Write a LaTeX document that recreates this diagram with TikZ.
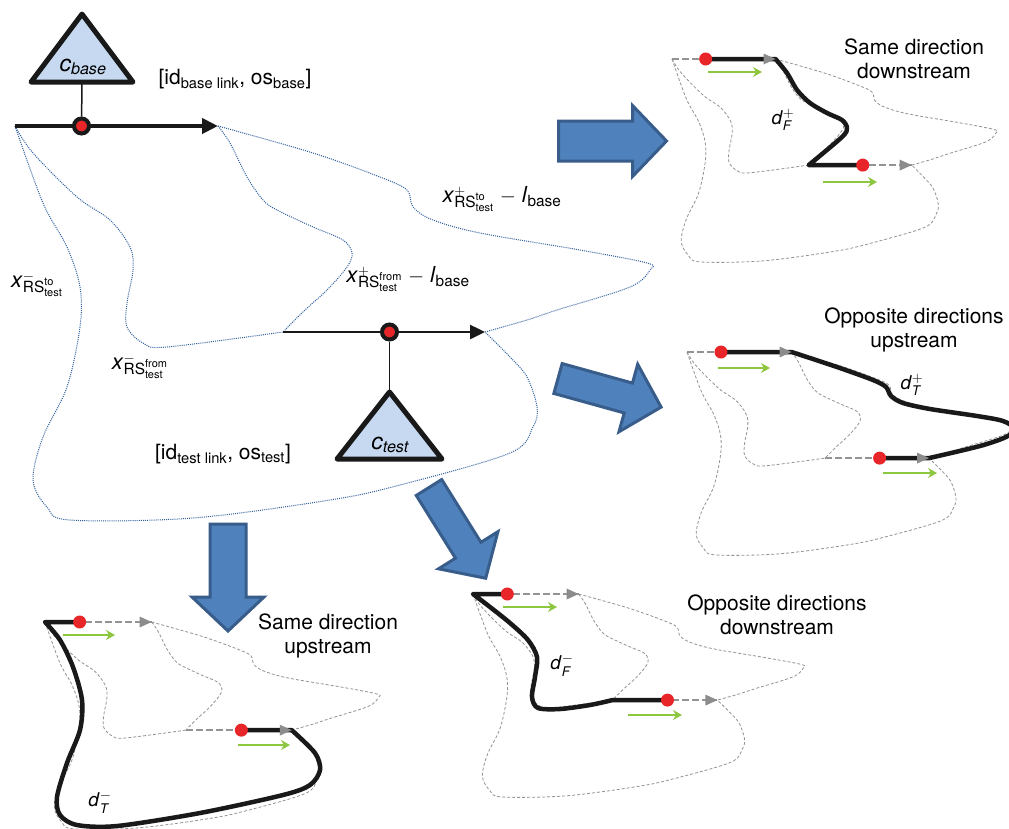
\documentclass[tikz,border=0pt]{standalone}
\usepackage{amsmath}
\usepackage{fontspec}
\setmainfont{TeX Gyre Heros}
\usetikzlibrary{arrows.meta,calc}
\definecolor{trifill}{HTML}{C6D9F1}
\definecolor{afill}{HTML}{4F81BD}
\definecolor{adraw}{HTML}{385D8A}
\definecolor{dotb}{HTML}{2F5F9E}
\definecolor{grn}{HTML}{8DC63F}
\definecolor{rdot}{HTML}{E8262A}

\newcommand{\netcurves}[1]{%
 \draw[#1] plot[smooth,tension=.55] coordinates {(0,0) (28,77) (52,121) (65,161) (65,201) (52,261) (28,311) (18,354) (32,381) (55,394) (178,392) (315,374) (385,359) (495,327) (518,301) (522,281) (512,251) (495,231) (470,206)};
 \draw[#1] plot[smooth,tension=.55] coordinates {(0,0) (18,27) (62,71) (95,94) (115,121) (118,144) (112,177) (112,201) (128,217) (152,221) (268,206)};
 \draw[#1] plot[smooth,tension=.55] coordinates {(203,0) (215,17) (232,51) (248,74) (262,84) (298,101) (328,114) (337,127) (332,141) (312,164) (290,184) (268,206)};
 \draw[#1] plot[smooth,tension=.55] coordinates {(203,0) (298,27) (365,51) (392,64) (398,81) (418,94) (465,107) (565,124) (632,137) (635,144) (615,161) (542,184) (512,194) (470,206)};
}
\newcommand{\smallnet}[5]{%
 \begin{scope}[shift={(#1,#2)}, xscale=#3, yscale=#4]
  \netcurves{gdash}
  \coordinate (#5bs) at (0,0);
  \coordinate (#5bd) at (66,0);
  \coordinate (#5be) at (203,0);
  \coordinate (#5ts) at (268,206);
  \coordinate (#5td) at (374,206);
  \coordinate (#5te) at (470,206);
 \end{scope}
 \draw[glink] (#5bs) -- (#5be);
 \draw[glink] (#5ts) -- (#5te);
}
\newcommand{\ghead}[1]{\fill[gray!90] (#1) -- ++(-12,-5.5) -- ++(0,11) -- cycle;}
\newcommand{\blockarrow}[7]{%
 \begin{scope}[shift={(#1,#2)}, rotate=#3]
  \draw[barrow] (0,-#6) -- (#4,-#6) -- (#4,-#7) -- (#5,0) -- (#4,#7) -- (#4,#6) -- (0,#6) -- cycle;
 \end{scope}}
\newcommand{\xlab}[3]{\textit{x}$^{#1}_{\smash[t]{\text{RS}^{\text{#2}}_{\text{test}}}}$#3}
\newcommand{\dlab}[2]{\textit{d}$^{#1}_{\text{\itshape #2}}$}

\begin{document}
\begin{tikzpicture}[x=1pt,y=-1pt,
  dotblue/.style={draw=dotb, line width=1pt, dash pattern=on 1pt off 1.1pt},
  gdash/.style={draw=gray!85, line width=0.8pt, dash pattern=on 3pt off 2pt},
  glink/.style={draw=gray!85, line width=1.6pt, dash pattern=on 7pt off 3pt},
  thickp/.style={draw=black!90, line width=4.5pt, line join=round, line cap=round},
  barrow/.style={fill=afill, draw=adraw, line width=3pt, line join=miter},
  tristyle/.style={fill=trifill, draw=black!90, line width=5pt, line join=round},
  maindot/.style={circle, fill=rdot, draw=black!90, line width=4pt, minimum size=15pt, inner sep=0pt},
  smalldot/.style={circle, fill=rdot, minimum size=13pt, inner sep=0pt},
  greenarrow/.style={draw=grn, line width=2pt, -{Stealth[length=9pt,width=10pt,inset=3pt]}},
  lbl/.style={inner sep=0pt, font=\fontsize{21}{24}\selectfont},
  xl/.style={inner sep=0pt, font=\fontsize{22}{26}\selectfont},
  title/.style={inner sep=0pt, align=center, font=\fontsize{21}{24}\selectfont},
  dl/.style={inner sep=0pt, font=\fontsize{19}{22}\selectfont}]
\fill[white] (0,0) rectangle (1009,828);
\useasboundingbox (0,0) rectangle (1009,828);

% ---------- main network ----------
\begin{scope}[shift={(15,126)}]
 \netcurves{dotblue}
\end{scope}
\coordinate (bs) at (15,126);
\coordinate (be) at (218,126);
\coordinate (ts) at (283,332);
\coordinate (te) at (485,332);
\draw[line width=4pt, black!90, -{Triangle[length=16pt,width=15pt]}] (bs) -- (be);
\draw[line width=2.5pt, black!90, -{Triangle[length=15pt,width=14pt]}] (ts) -- (te);

\draw[tristyle] (82,14) -- (133,82) -- (31,82) -- cycle;
\coordinate (cbbot) at (82,82);
\node[inner sep=0pt, font=\fontsize{23}{26}\selectfont] (cbase) at (83,67) {\textit{c}$_{\text{\itshape base}}$};
\draw[tristyle] (389.5,392) -- (442,459) -- (337,459) -- cycle;
\coordinate (cttop) at (389.5,392);
\node[inner sep=0pt, font=\fontsize{23}{26}\selectfont] (ctest) at (390,445) {\textit{c}$_{\text{\itshape test}}$};

\node[maindot] (bdot) at (81.5,126) {};
\node[maindot] (tdot) at (389.5,332) {};
\draw[line width=1.5pt, black!90] (cbbot) -- (bdot);
\draw[line width=1.5pt, black!90] (tdot) -- (cttop);

\node[lbl] (idb) at (235,79) {[id$_{\text{base link}}$, os$_{\text{base}}$]};
\node[lbl] (idt) at (223,454) {[id$_{\text{test link}}$, os$_{\text{test}}$]};
\node[xl] (xmto) at (37,284) {\xlab{-}{to}{}};
\node[xl] (xmfrom) at (140,366) {\xlab{-}{from}{}};
\node[xl] (xpto) at (502,199) {\xlab{+}{to}{$\;-\;$\textit{l}$_{\text{base}}$}};
\node[xl] (xpfrom) at (408,279) {\xlab{+}{from}{$\;-\;$\textit{l}$_{\text{base}}$}};

% ---------- block arrows ----------
\blockarrow{558.5}{141}{0}{74}{108}{20}{35.5}
\blockarrow{558}{378.5}{-15.5}{73}{107}{15.5}{35}
\blockarrow{429}{487.5}{-58}{74}{107}{15}{35}
\blockarrow{228}{524}{-90}{73}{107}{18}{36}

% ---------- diagram 1: same direction downstream ----------
\smallnet{672}{59}{0.51}{0.515}{a}
\draw[thickp] (abd) -- (abe) -- plot[smooth,tension=.5] coordinates {(abe) (787,73) (797,90) (810,103) (827,113) (842,120) (847,128) (842,137) (ats)} -- (atd);
\ghead{abe}
\ghead{ate}
\node[smalldot] (adot1) at (abd) {};
\node[smalldot] (adot2) at (atd) {};
\draw[greenarrow] (708,72) -- (762,72);
\draw[greenarrow] (823,182) -- (877,182);
\node[dl] (dfp) at (783,120) {\dlab{+}{F}};
\node[title] (t1) at (914,59) {Same direction\\downstream};

% ---------- diagram 2: opposite directions upstream ----------
\smallnet{687}{352}{0.515}{0.515}{b}
\draw[thickp] (bbd) -- (bbe) -- plot[smooth,tension=.5] coordinates {(bbe) (837,367) (873,380) (886,387) (891,396) (903,403) (930,409) (977,416) (1003,421) (1015,429) (1006,437) (980,446) (bte)} -- (btd);
\ghead{bbe}
\ghead{bte}
\node[smalldot] (bdot1) at (bbd) {};
\node[smalldot] (bdot2) at (btd) {};
\draw[greenarrow] (718,368) -- (770,368);
\draw[greenarrow] (883,473) -- (937,473);
\node[dl] (dtp) at (912,385) {\dlab{+}{T}};
\node[title] (t2) at (914,330) {Opposite directions\\upstream};

% ---------- diagram 3: same direction upstream ----------
\smallnet{45}{622}{0.525}{0.525}{c}
\draw[thickp] (cbd) -- (cbs) -- plot[smooth,tension=.5] coordinates {(cbs) (60,640) (73,667) (82,700) (80,730) (67,763) (57,797) (60,815) (77,825) (117,826) (200,813) (283,795) (310,785) (320,770) (315,753) (cte)} -- (ctd);
\ghead{cbe}
\ghead{cte}
\node[smalldot] (cdot1) at (cbd) {};
\node[smalldot] (cdot2) at (ctd) {};
\draw[greenarrow] (63,635) -- (115,635);
\draw[greenarrow] (238,745) -- (290,745);
\node[dl] (dtm) at (100,802) {\dlab{-}{T}};
\node[title] (t3) at (328,636) {Same direction\\upstream};

% ---------- diagram 4: opposite directions downstream ----------
\smallnet{473}{594}{0.52}{0.515}{d}
\draw[thickp] (dbd) -- (dbs) -- plot[smooth,tension=.5] coordinates {(dbs) (490,607) (510,623) (528,640) (537,657) (535,677) (532,697) (538,708) (560,709) (590,705) (dts)} -- (dtd);
\ghead{dbe}
\ghead{dte}
\node[smalldot] (ddot1) at (dbd) {};
\node[smalldot] (ddot2) at (dtd) {};
\draw[greenarrow] (503,607) -- (557,607);
\draw[greenarrow] (628,715) -- (682,715);
\node[dl] (dfm) at (562,665) {\dlab{-}{F}};
\node[title] (t4) at (777,615) {Opposite directions\\downstream};
\end{tikzpicture}
\end{document}
